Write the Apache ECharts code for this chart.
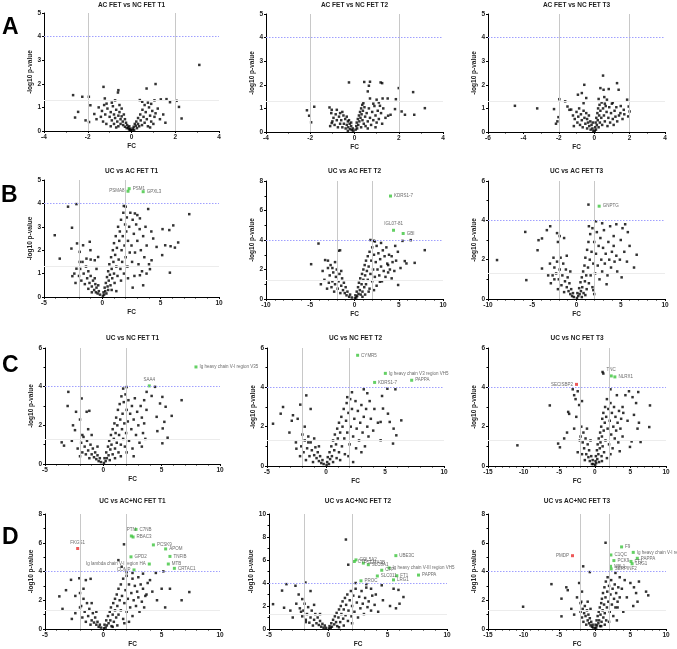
<!DOCTYPE html>
<html>
<head>
<meta charset="utf-8">
<script src="https://cdn.jsdelivr.net/npm/echarts@6/dist/echarts.min.js"></script>
<style>
  html, body { margin: 0; padding: 0; background: #fff; }
  #container { width: 677px; height: 649px; }
</style>
</head>
<body>
<div id="container"></div>
<script>
// panel titles
var titles = ['AC FET vs NC FET T1', 'AC FET vs NC FET T2', 'AC FET vs NC FET T3',
  'UC vs AC FET T1', 'UC vs AC FET T2', 'UC vs AC FET T3',
  'UC vs NC FET T1', 'UC vs NC FET T2', 'UC vs NC FET T3',
  'UC vs AC+NC FET T1', 'UC vs AC+NC FET T2', 'UC vs AC+NC FET T3'];
var rowLetters = ['A', 'B', 'C', 'D'];

// axis ranges [min, max, interval]
var xRanges = [[-4, 4, 2], [-4, 4, 2], [-6, 4, 2],
  [-5, 10, 5], [-10, 10, 5], [-10, 10, 5],
  [-5, 10, 5], [-5, 10, 5], [-15, 10, 5],
  [-5, 10, 5], [-5, 10, 5], [-15, 10, 5]];
var yRanges = [[0, 5, 1], [0, 5, 1], [0, 5, 1],
  [0, 5, 1], [0, 8, 2], [0, 6, 2],
  [0, 6, 2], [0, 6, 2], [0, 6, 2],
  [0, 8, 2], [0, 10, 2], [0, 8, 2]];

// FC, -log10 p-value
var a1Pts = [[3.1,2.8],[-2.67,1.52],[-2.25,1.45],[-1.95,1.45],[-1.28,1.87],[-0.6,1.73],[-0.62,1.63],[1.1,1.99],[2.17,1.02],[2.29,0.53],[-2.44,0.81],[-2.58,0.57],[-1.88,1.09],[-1.94,0.38],[-1.22,1.38],[-1.14,1.16],[1.6,1.35],[1.76,1.22],[1.34,1.34],[0.69,1.8],[0.38,1.31],[0.49,1.24],[2.06,1.28],[-2.1,0.45],[-1.7,0.72],[-1.6,0.5],[1.45,0.7],[1.3,0.5],[1.55,0.35],[1.2,0.95],[1.05,1.3],
  [-1.5,1.0],[-1.35,0.85],[-1.2,0.7],[-1.1,0.95],[-1.0,0.6],[-0.95,0.8],[-0.9,0.45],[-0.85,1.05],[-0.8,0.7],[-0.75,0.55],[-0.7,0.9],[-0.65,0.4],[-0.6,0.65],[-0.55,0.8],[-0.5,0.5],[-0.5,0.3],[-0.45,0.95],[-0.45,0.62],[-0.4,0.4],[-0.38,0.25],[-0.35,0.7],[-0.3,0.5],[-0.3,0.18],[-0.25,0.35],[-0.22,0.12],[-0.2,0.25],[-0.15,0.15],[-0.12,0.08],[-0.1,0.2],[-0.08,0.05],[-0.05,0.1],[-0.03,0.02],[-1.3,0.4],[-1.15,0.3],[-0.95,0.2],[-0.8,0.3],[-0.7,0.15],[-0.6,0.2],[-1.4,0.6],[-1.25,1.1],[-0.9,1.2],[-0.75,1.3],[-0.55,1.1],
  [0.03,0.03],[0.06,0.1],[0.1,0.18],[0.12,0.05],[0.15,0.3],[0.2,0.22],[0.22,0.4],[0.25,0.12],[0.3,0.55],[0.3,0.3],[0.35,0.2],[0.4,0.7],[0.42,0.45],[0.48,0.25],[0.5,0.9],[0.55,0.6],[0.6,0.35],[0.65,0.8],[0.7,0.5],[0.75,0.2],[0.8,1.0],[0.85,0.65],[0.9,0.4],[0.95,0.85],[1.0,0.3],[1.05,0.6],[1.1,0.75],[0.6,1.1],[0.75,1.2],[0.9,1.15],[0.85,0.15]];
var a2Pts = [[-0.25,2.1],[0.44,2.12],[0.7,2.13],[0.65,1.96],[0.6,1.72],[1.18,2.1],[1.25,2.07],[2.0,1.86],[2.65,1.69],[3.18,1.01],[2.7,0.73],[2.28,0.73],[2.13,0.87],[1.87,1.39],[1.5,1.42],[1.27,1.42],[0.7,1.42],[1.0,1.37],[1.15,1.11],[1.83,0.97],[1.63,0.73],[1.52,0.69],[-2.15,0.92],[-2.05,0.69],[-1.96,0.41],[-1.82,1.07],[-1.13,1.04],[-1.03,0.94],[-0.8,0.94],[-0.65,0.8],[-1.03,0.38],
  [0.05,0.1],[0.08,0.25],[0.1,0.4],[0.12,0.15],[0.15,0.55],[0.17,0.3],[0.2,0.7],[0.22,0.45],[0.25,0.85],[0.27,0.6],[0.3,1.0],[0.3,0.2],[0.32,0.75],[0.35,1.15],[0.36,0.5],[0.38,0.9],[0.4,1.22],[0.42,0.35],[0.45,1.05],[0.48,0.65],
  [0.5,0.25],[0.55,0.8],[0.6,0.45],[0.65,1.0],[0.7,0.6],[0.75,0.3],[0.8,0.85],[0.85,0.5],[0.9,1.1],[0.95,0.7],[1.0,0.4],[1.05,0.9],[1.1,0.55],[1.2,0.8],[1.25,0.35],[1.3,1.0],[1.4,0.6],[1.1,1.25],[0.85,1.2],[0.6,0.15],[0.95,0.2],
  [-0.05,0.05],[-0.08,0.15],[-0.12,0.08],[-0.15,0.25],[-0.2,0.12],[-0.22,0.35],[-0.28,0.2],[-0.3,0.45],[-0.35,0.3],[-0.4,0.15],[-0.42,0.55],[-0.48,0.35],[-0.5,0.7],[-0.55,0.2],[-0.6,0.5],[-0.65,0.35],[-0.7,0.65],[-0.75,0.2],[-0.8,0.5],[-0.85,0.75],[-0.9,0.3],[-0.95,0.6],[-1.0,0.45],[-1.05,0.8],[-1.1,0.25],[-0.55,0.85],[-0.35,0.65],[-0.25,0.5],[-0.15,0.4],[-0.3,0.05]];
var a3Pts = [[-4.48,1.11],[-3.22,1.0],[-2.27,0.97],[-2.08,0.45],[-2.16,0.35],[-1.97,1.39],[-2.02,0.63],[-1.64,1.3],[-1.51,1.08],[-1.4,0.94],[-0.56,2.0],[-0.7,1.65],[-0.92,1.58],[-0.45,1.44],[-0.6,1.22],[0.5,2.39],[1.29,2.07],[0.82,1.82],[0.35,1.86],[0.53,1.79],[1.38,1.79],[0.72,1.37],[0.57,1.48],[1.86,1.37],[1.95,1.08],[2.0,0.87],[1.92,0.66],[1.67,0.94],[1.48,0.8],
  [-1.2,0.7],[-1.1,0.55],[-1.0,0.85],[-0.95,0.4],[-0.9,0.65],[-0.85,1.0],[-0.8,0.3],[-0.75,0.75],[-0.7,0.5],[-0.65,0.2],[-0.6,0.9],[-0.55,0.6],[-0.5,0.35],[-0.45,0.8],[-0.4,0.15],[-0.4,0.55],[-0.35,0.4],[-0.3,0.7],[-0.28,0.25],[-0.22,0.45],[-0.2,0.1],[-0.15,0.3],[-0.1,0.15],[-0.08,0.4],[-0.05,0.05],[-1.3,0.95],[-1.15,0.25],
  [0.03,0.05],[0.06,0.2],[0.08,0.4],[0.1,0.1],[0.12,0.6],[0.15,0.3],[0.18,0.8],[0.2,0.5],[0.22,1.0],[0.25,0.2],[0.28,0.7],[0.3,1.15],[0.32,0.4],[0.35,0.9],[0.4,0.6],[0.42,1.25],[0.45,0.3],[0.5,1.0],[0.55,0.7],[0.6,0.45],[0.65,1.1],[0.7,0.85],[0.75,0.25],[0.8,0.6],[0.85,1.05],[0.9,0.4],[0.95,0.8],[1.0,1.2],[1.05,0.55],[1.1,0.3],[1.15,0.9],[1.2,0.65],[1.25,1.05],[1.3,0.45],[1.4,0.7],[1.5,1.1],[1.6,0.55],[1.7,0.75],[0.25,1.4],[0.6,1.2],[1.05,1.25]];
var b1Pts = [[1.84,3.89],[2.0,3.86],[-2.22,3.97],[-2.94,3.86],[-2.6,2.96],[-4.08,2.64],[-3.65,1.64],[-2.65,2.07],[-2.57,0.89],[-2.17,2.29],[-1.94,1.93],[-1.65,2.21],[-1.08,2.36],[-1.02,2.0],[-2.22,1.21],[-1.94,1.5],[-1.36,1.64],[-0.65,1.57],[-0.36,1.71],
  [3.93,3.76],[7.45,3.54],[6.08,3.06],[5.16,2.9],[5.74,2.86],[6.5,2.33],[6.22,2.11],[5.39,2.21],[5.85,2.17],[5.13,1.79],[5.79,1.04],[4.22,1.57],[4.08,1.19],[3.5,0.5],[3.22,0.93],[3.79,1.0],[4.36,2.5],[4.65,2.14],[3.7,3.0],[3.22,3.36],[2.79,3.57],
  [-0.2,0.1],[-0.3,0.25],[-0.4,0.15],[-0.5,0.4],[-0.55,0.2],[-0.6,0.55],[-0.7,0.3],[-0.8,0.7],[-0.9,0.45],[-1.0,0.9],[-1.1,0.6],[-1.2,1.1],[-1.3,0.8],[-1.4,1.3],[-1.5,0.55],[-1.6,1.0],[-1.7,1.5],[-1.8,0.7],[-1.9,1.2],[-2.0,0.9],[-2.3,0.6],[-2.4,1.0],[-1.2,0.35],[-0.9,0.2],[-0.65,0.8],[-0.35,0.5],[-1.0,1.6],[-0.5,1.2],
  [0.05,0.05],[0.1,0.2],[0.15,0.1],[0.2,0.4],[0.25,0.25],[0.3,0.6],[0.35,0.15],[0.4,0.85],[0.45,0.45],[0.5,1.1],[0.5,0.3],[0.55,0.7],[0.6,1.4],[0.65,0.95],[0.7,0.5],[0.75,1.7],[0.8,1.2],[0.85,0.8],[0.9,2.0],[0.95,1.5],[1.0,1.0],[1.0,2.3],[1.05,0.6],[1.1,1.8],[1.15,2.6],[1.2,1.3],[1.25,2.1],[1.3,0.9],[1.35,3.0],[1.4,1.6],[1.45,2.4],[1.5,2.8],[1.55,1.2],[1.6,3.3],[1.65,2.0],[1.7,1.5],[1.75,2.6],[1.8,3.6],[1.85,1.0],[1.9,2.2],[1.95,3.1],[2.0,1.7],[2.05,2.8],[2.1,3.4],[2.15,1.3],[2.2,2.4],[2.3,3.0],[2.35,1.9],[2.4,3.6],[2.5,2.2],[2.55,1.5],[2.6,3.3],[2.7,2.7],[2.75,0.9],[2.8,1.9],[2.9,3.1],[3.0,2.4],[3.1,1.4],[3.2,2.9],[3.3,2.0],[3.4,1.1],[3.5,2.6],[3.6,1.7],[3.8,2.2],[4.0,1.4],[4.2,2.8],[3.0,3.5],[2.6,0.4],[1.2,0.25],[0.8,0.3],[1.6,0.7],[2.2,0.8]];
var b2Pts = [[6.36,3.99],[5.42,3.94],[7.94,3.31],[-4.07,3.76],[-4.9,2.36],[5.68,2.57],[5.87,2.41],[6.8,2.45],[4.93,0.95],[2.87,1.17],[1.8,4.0],[2.2,3.95],[-1.82,3.27],[-1.63,3.3],[-3.32,2.64],[-3.0,2.6],[-2.5,2.1],[-3.6,1.9],[-3.8,1.0],[-3.4,1.3],[4.6,3.6],[4.9,3.2],[5.2,2.1],[4.2,2.9],[3.8,2.3],
  [-0.3,0.1],[-0.5,0.3],[-0.6,0.15],[-0.8,0.5],[-0.9,0.25],[-1.0,0.8],[-1.1,0.4],[-1.2,1.1],[-1.3,0.6],[-1.4,1.4],[-1.5,0.9],[-1.6,0.4],[-1.7,1.7],[-1.8,1.2],[-1.9,0.7],[-2.0,2.0],[-2.1,1.5],[-2.2,1.0],[-2.3,0.5],[-2.4,1.8],[-2.5,1.2],[-2.6,0.8],[-2.8,1.6],[-2.9,1.1],[-3.0,2.1],[-3.1,0.7],[-2.7,2.3],[-2.2,2.5],[-1.5,1.9],
  [0.05,0.05],[0.1,0.25],[0.2,0.1],[0.25,0.5],[0.3,0.2],[0.4,0.8],[0.45,0.35],[0.5,1.1],[0.6,0.6],[0.65,1.4],[0.7,0.3],[0.8,1.0],[0.85,1.7],[0.9,0.5],[1.0,2.0],[1.0,1.3],[1.1,0.8],[1.15,2.3],[1.2,1.6],[1.3,2.6],[1.3,1.0],[1.4,1.9],[1.5,2.9],[1.5,1.3],[1.6,2.2],[1.7,3.2],[1.7,0.7],[1.8,1.7],[1.9,2.6],[2.0,3.5],[2.0,1.2],[2.1,2.0],[2.2,3.0],[2.3,1.5],[2.4,2.5],[2.5,3.6],[2.5,0.9],[2.6,2.0],[2.7,3.1],[2.8,1.6],[2.9,2.7],[3.0,3.8],[3.0,2.2],[3.1,1.2],[3.2,3.3],[3.3,1.9],[3.4,2.9],[3.5,1.5],[3.6,3.5],[3.7,2.4],[3.8,1.8],[3.9,3.0],[4.0,2.0],[4.2,1.4],[4.3,2.5],[4.5,1.9],[4.7,2.6],[2.3,3.9],[1.2,0.3],[0.9,0.15],[1.6,0.5],[2.2,0.6]];
var b3Pts = [[1.35,4.8],[-8.98,1.98],[-5.79,3.41],[-4.29,2.99],[-3.9,3.08],[-3.35,3.5],[-2.97,3.7],[-4.4,2.48],[-3.9,1.55],[-5.67,0.96],[-2.2,3.35],[-1.9,3.2],[-2.1,2.9],[-1.4,3.1],[-3.2,1.2],[-3.0,1.8],[-2.6,2.1],[-2.5,1.0],
  [6.8,2.25],[6.5,1.6],[5.5,3.8],[5.8,3.4],[5.2,3.6],[5.0,3.0],[4.9,2.0],[5.4,2.4],[4.5,3.8],[4.2,2.7],[3.8,3.7],[6.0,2.7],[5.7,1.9],[4.6,1.4],[3.4,0.75],[5.1,1.1],[2.9,3.85],[2.2,3.95],
  [-0.3,0.1],[-0.4,0.3],[-0.5,0.15],[-0.6,0.5],[-0.7,0.25],[-0.8,0.8],[-0.9,0.4],[-1.0,1.1],[-1.1,0.6],[-1.2,1.5],[-1.3,0.9],[-1.4,0.35],[-1.5,1.8],[-1.6,1.2],[-1.7,0.7],[-1.8,2.1],[-1.9,1.5],[-2.0,1.0],[-2.1,0.5],[-2.2,1.9],[-2.3,1.3],[-2.5,1.6],[-2.7,1.2],[-2.9,0.8],[-1.1,2.2],[-0.7,1.4],
  [0.05,0.05],[0.1,0.3],[0.2,0.15],[0.3,0.55],[0.35,0.25],[0.45,0.85],[0.5,0.4],[0.6,1.1],[0.65,0.6],[0.75,1.4],[0.8,0.3],[0.9,1.7],[0.95,0.9],[1.0,2.1],[1.1,1.2],[1.15,0.5],[1.2,2.5],[1.3,1.6],[1.35,2.9],[1.4,0.8],[1.5,2.0],[1.55,3.3],[1.6,1.2],[1.7,2.4],[1.8,3.6],[1.8,0.6],[1.9,1.8],[2.0,2.9],[2.1,1.3],[2.2,2.3],[2.3,3.4],[2.4,1.7],[2.5,2.7],[2.6,1.0],[2.7,3.1],[2.8,2.0],[2.9,1.4],[3.0,2.6],[3.1,3.5],[3.2,1.8],[3.3,2.3],[3.5,1.2],[3.6,2.9],[3.7,2.0],[3.9,1.6],[4.0,2.4],[4.2,3.2],[4.3,1.9],[4.5,2.2],[1.0,0.2],[0.6,0.1],[2.0,0.25],[1.4,3.7],[1.9,0.45]];
var c1Pts = [[-3.0,3.73],[-3.06,3.0],[-1.86,3.39],[-2.34,2.7],[-1.43,2.7],[-1.2,2.75],[-3.57,1.12],[-3.37,0.95],[-2.43,1.75],[6.71,3.3],[4.43,3.99],[5.06,3.47],[4.86,3.13],[5.34,2.96],[5.86,2.49],[4.57,2.44],[5.23,2.18],[5.09,1.84],[4.63,1.7],[5.51,1.36],[5.06,1.07],[3.71,3.73],[4.14,3.52],[2.0,3.98],[1.7,3.9],[3.5,3.3],[-2.6,2.0],[-2.7,1.2],[-2.2,0.8],[-1.8,1.5],[-2.0,2.3],
  [-0.2,0.1],[-0.3,0.3],[-0.4,0.15],[-0.5,0.45],[-0.6,0.25],[-0.7,0.6],[-0.8,0.35],[-0.9,0.8],[-1.0,0.5],[-1.1,1.0],[-1.2,0.3],[-1.3,0.7],[-1.4,1.2],[-1.5,0.5],[-1.6,0.9],[-1.7,1.4],[-1.8,0.6],[-1.9,1.1],[-2.0,0.4],[-1.0,1.5],[-0.5,0.9],[-1.3,1.8],
  [0.05,0.05],[0.1,0.3],[0.2,0.15],[0.25,0.6],[0.3,0.3],[0.4,0.9],[0.45,0.45],[0.5,1.2],[0.55,0.2],[0.6,0.75],[0.65,1.5],[0.7,1.0],[0.8,1.8],[0.8,0.5],[0.9,1.3],[0.95,2.1],[1.0,0.8],[1.05,1.6],[1.1,2.4],[1.15,1.1],[1.2,2.0],[1.25,2.8],[1.3,0.6],[1.35,1.5],[1.4,3.1],[1.45,2.3],[1.5,1.0],[1.55,3.5],[1.6,1.8],[1.65,2.6],[1.7,1.3],[1.75,3.2],[1.8,2.1],[1.85,0.9],[1.9,3.6],[1.95,1.6],[2.0,2.8],[2.1,2.2],[2.15,3.3],[2.2,1.2],[2.3,2.6],[2.4,1.8],[2.45,3.0],[2.5,0.8],[2.6,2.3],[2.7,3.4],[2.8,1.5],[2.9,2.7],[3.0,2.0],[3.1,1.1],[3.2,3.0],[3.3,2.4],[3.4,1.6],[3.5,2.1],[3.6,1.3],[3.7,2.8],[1.0,0.3],[1.5,0.4],[2.0,0.6],[2.6,0.4],[3.3,0.9]];
var c2Pts = [[5.88,3.9],[5.2,3.93],[4.75,3.56],[4.83,2.92],[5.25,2.66],[5.4,2.24],[4.63,2.24],[4.4,2.2],[5.73,1.9],[5.96,1.56],[5.68,1.14],[6.38,2.32],[4.63,1.31],[-3.64,3.0],[-3.84,2.66],[-4.49,2.15],[-1.67,3.59],[-2.18,3.12],[-2.8,2.58],[-2.4,2.4],[-2.51,0.88],[-2.55,1.2],[-3.1,1.7],[-2.9,2.3],[3.2,3.9],[3.5,3.7],[2.2,3.75],[1.8,3.5],[-1.3,2.9],[-1.8,2.0],[-1.5,1.2],
  [-0.2,0.1],[-0.3,0.3],[-0.4,0.15],[-0.5,0.5],[-0.6,0.25],[-0.7,0.7],[-0.8,0.4],[-0.9,0.95],[-1.0,0.55],[-1.1,0.2],[-1.2,0.8],[-1.3,1.2],[-1.4,0.5],[-1.5,1.5],[-1.6,0.9],[-1.7,0.3],[-1.8,1.3],[-1.9,0.7],[-2.0,1.6],[-2.1,1.0],[-2.2,0.5],[-1.0,1.4],[-0.6,1.0],
  [0.05,0.05],[0.1,0.2],[0.15,0.45],[0.25,0.1],[0.3,0.7],[0.35,0.35],[0.45,1.0],[0.5,0.5],[0.6,1.3],[0.6,0.2],[0.7,0.8],[0.75,1.6],[0.85,1.1],[0.9,0.4],[0.95,1.9],[1.0,1.4],[1.1,2.2],[1.1,0.7],[1.2,1.7],[1.3,2.5],[1.35,1.0],[1.4,2.0],[1.5,2.9],[1.55,1.4],[1.6,0.6],[1.7,2.3],[1.75,3.2],[1.8,1.7],[1.9,2.7],[2.0,1.1],[2.05,3.4],[2.1,2.0],[2.2,2.9],[2.3,1.5],[2.4,2.4],[2.5,3.3],[2.55,0.9],[2.6,1.9],[2.7,2.8],[2.8,1.3],[2.9,2.2],[3.0,3.1],[3.1,1.7],[3.2,2.5],[3.3,1.0],[3.4,2.9],[3.5,2.0],[3.6,1.5],[3.7,3.3],[3.8,2.4],[4.0,1.8],[4.1,2.9],[1.2,0.3],[1.9,0.5],[2.3,0.2],[3.0,0.7]];
var c3Pts = [[1.09,4.78],[1.2,4.7],[-10.87,1.05],[-6.32,3.08],[-3.74,2.75],[-3.6,2.65],[-5.15,1.14],[-4.9,0.95],[-4.3,1.4],[-3.9,1.7],[-3.1,3.9],[-2.9,3.6],[-2.7,3.4],[-2.4,3.8],[-2.2,3.1],[-1.8,3.3],[-2.6,2.5],[-2.9,1.9],[-2.1,1.3],[-2.4,0.7],[7.75,3.08],[7.65,1.98],[5.17,1.25],[4.94,0.97],[6.43,1.22],[6.1,3.76],[5.8,3.2],[5.3,3.5],[4.8,3.8],[4.3,3.6],[3.9,3.0],[5.5,2.6],[6.2,2.2],[6.0,1.9],[4.6,2.3],[3.5,0.75],[2.2,3.9],
  [-0.2,0.1],[-0.3,0.3],[-0.4,0.1],[-0.5,0.5],[-0.7,0.25],[-0.8,0.8],[-0.9,0.45],[-1.0,1.1],[-1.2,0.6],[-1.3,1.4],[-1.4,0.3],[-1.5,0.9],[-1.6,1.7],[-1.7,1.2],[-1.8,0.6],[-1.9,2.0],[-2.0,1.5],[-1.1,1.9],[-0.6,1.3],
  [0.05,0.05],[0.1,0.25],[0.15,0.5],[0.2,0.15],[0.3,0.8],[0.35,0.35],[0.4,1.1],[0.5,0.6],[0.55,1.4],[0.6,0.2],[0.7,0.9],[0.75,1.7],[0.8,1.2],[0.9,2.0],[0.95,0.5],[1.0,1.5],[1.05,2.4],[1.1,1.0],[1.2,2.7],[1.25,1.8],[1.3,0.7],[1.4,2.2],[1.45,3.0],[1.5,1.3],[1.6,2.5],[1.7,3.4],[1.7,0.4],[1.8,1.9],[1.9,2.9],[2.0,1.1],[2.1,2.3],[2.2,3.2],[2.3,1.6],[2.4,2.7],[2.5,0.9],[2.6,2.0],[2.7,3.0],[2.8,1.4],[2.9,2.5],[3.0,1.8],[3.1,3.6],[3.2,2.2],[3.3,1.2],[3.4,2.8],[3.6,1.9],[3.7,2.4],[3.9,1.5],[4.0,2.7],[1.0,0.25],[2.2,0.6]];
var d1Pts = [[1.77,5.89],[1.29,4.79],[1.57,4.33],[5.14,4.01],[4.5,3.9],[-3.77,2.27],[-2.77,3.42],[-2.06,3.53],[-1.09,3.49],[6.71,2.0],[7.37,2.57],[5.0,2.8],[5.71,2.8],[4.2,2.6],[3.8,3.2],[3.4,3.85],[4.0,3.4],[4.6,2.0],[5.3,1.5],[3.6,2.3],[-3.2,2.7],[-2.4,2.3],[-2.0,1.5],[-3.5,1.4],[-2.7,0.7],[-2.4,1.1],[-1.7,2.8],[-1.5,3.4],[2.0,3.95],[2.5,3.9],
  [-0.2,0.1],[-0.3,0.3],[-0.4,0.15],[-0.5,0.5],[-0.6,0.3],[-0.7,0.8],[-0.8,0.45],[-0.9,1.1],[-1.0,0.6],[-1.1,0.3],[-1.2,1.4],[-1.3,0.9],[-1.4,1.8],[-1.5,0.5],[-1.6,1.2],[-1.7,2.1],[-1.8,0.8],[-1.9,1.6],[-2.0,2.5],[-1.0,1.8],[-0.6,1.2],
  [0.05,0.05],[0.1,0.3],[0.2,0.1],[0.25,0.6],[0.3,0.25],[0.4,0.9],[0.45,0.4],[0.55,1.2],[0.6,0.6],[0.65,1.5],[0.7,0.2],[0.8,1.0],[0.85,1.8],[0.9,0.5],[1.0,2.1],[1.0,1.3],[1.1,0.8],[1.15,2.4],[1.2,1.6],[1.3,2.8],[1.3,1.0],[1.4,2.0],[1.5,3.1],[1.5,1.3],[1.6,2.3],[1.7,3.5],[1.7,0.7],[1.8,1.8],[1.9,2.7],[2.0,3.7],[2.0,1.2],[2.1,2.1],[2.2,3.1],[2.3,1.5],[2.4,2.5],[2.5,3.5],[2.5,0.9],[2.6,2.0],[2.7,3.0],[2.8,1.6],[2.9,2.6],[3.0,3.6],[3.0,2.2],[3.1,1.2],[3.2,3.1],[3.3,1.9],[3.4,2.8],[3.5,1.5],[3.7,2.4],[1.2,0.25],[1.8,0.4],[2.2,0.5],[0.8,0.15]];
var d2Pts = [[1.48,7.78],[1.68,5.59],[-4.66,2.16],[-3.9,3.34],[-3.53,3.9],[-2.77,3.76],[-1.93,4.04],[-3.73,1.85],[-3.2,1.6],[6.33,2.78],[5.91,3.4],[5.5,3.5],[6.0,2.2],[5.2,2.0],[4.5,3.8],[4.0,3.0],[3.6,3.5],[3.2,3.9],[4.6,2.5],[5.7,1.8],[4.2,1.5],[2.3,4.0],[-2.5,3.0],[-2.2,2.6],[-2.7,2.2],[-3.0,1.0],[-1.5,3.3],[-1.9,0.6],[-2.3,1.5],
  [-0.2,0.1],[-0.3,0.3],[-0.4,0.1],[-0.5,0.45],[-0.6,0.2],[-0.7,0.7],[-0.8,0.35],[-0.9,1.0],[-1.0,0.5],[-1.1,1.3],[-1.2,0.8],[-1.3,0.3],[-1.4,1.6],[-1.5,1.0],[-1.6,0.55],[-1.7,1.9],[-1.8,1.3],[-1.9,0.8],[-2.0,2.2],[-2.1,1.6],[-2.2,1.1],[-1.2,2.1],[-0.7,1.3],[-2.4,1.8],
  [0.05,0.05],[0.1,0.25],[0.2,0.1],[0.25,0.5],[0.3,0.2],[0.4,0.8],[0.5,0.4],[0.55,1.1],[0.65,0.6],[0.7,1.4],[0.75,0.25],[0.85,1.0],[0.9,1.7],[1.0,0.6],[1.05,2.0],[1.1,1.3],[1.2,2.4],[1.25,0.9],[1.3,1.7],[1.4,2.7],[1.45,1.2],[1.5,2.1],[1.6,3.0],[1.65,0.7],[1.7,1.6],[1.8,2.5],[1.9,3.3],[1.95,1.1],[2.0,2.0],[2.1,2.9],[2.2,1.5],[2.3,3.5],[2.4,2.3],[2.5,1.0],[2.6,2.8],[2.7,1.8],[2.8,3.3],[2.9,2.2],[3.0,1.3],[3.1,2.7],[3.2,3.6],[3.3,1.9],[3.4,2.4],[3.6,1.6],[3.7,2.9],[3.9,2.1],[1.3,0.3],[2.0,0.5],[0.9,0.15]];
var d3Pts = [[1.51,6.0],[-1.63,4.36],[-0.7,3.96],[-10.07,1.55],[-6.09,3.12],[-4.68,0.88],[-4.68,2.11],[-4.0,2.9],[-3.8,2.7],[-3.3,1.4],[-2.9,1.0],[-2.5,2.2],[-2.2,3.2],[-2.0,1.8],[-1.8,2.6],[7.51,2.34],[7.2,2.6],[6.0,1.9],[5.8,2.5],[5.5,2.9],[5.0,3.2],[4.5,2.2],[4.2,3.4],[3.8,2.8],[3.5,3.6],[3.2,1.5],[6.2,3.3],[5.4,1.6],[4.0,1.2],[2.9,3.9],[3.1,0.6],
  [-0.2,0.1],[-0.3,0.3],[-0.4,0.15],[-0.5,0.5],[-0.6,0.25],[-0.7,0.75],[-0.8,0.4],[-0.9,1.0],[-1.0,0.6],[-1.1,1.3],[-1.2,0.3],[-1.3,0.9],[-1.4,1.6],[-1.5,1.1],[-1.6,0.5],[-1.7,1.4],[-1.8,0.8],[-1.9,1.9],[-2.0,1.2],[-1.0,1.9],[-0.6,1.4],
  [0.05,0.05],[0.1,0.3],[0.2,0.1],[0.25,0.6],[0.3,0.25],[0.4,0.9],[0.5,0.4],[0.55,1.2],[0.6,0.6],[0.7,1.5],[0.75,0.2],[0.8,1.0],[0.9,1.8],[0.95,0.5],[1.0,2.1],[1.1,1.3],[1.15,2.5],[1.2,0.8],[1.3,1.7],[1.35,2.9],[1.4,1.1],[1.5,2.2],[1.55,3.3],[1.6,0.6],[1.7,1.5],[1.75,2.6],[1.8,3.6],[1.9,1.9],[2.0,3.0],[2.1,1.2],[2.2,2.4],[2.3,3.4],[2.4,1.7],[2.5,2.8],[2.6,0.9],[2.7,2.1],[2.8,3.1],[2.9,1.5],[3.0,2.5],[3.2,1.9],[3.3,2.9],[3.5,2.2],[1.4,0.3],[2.0,0.5],[0.9,0.2]];

// significant up (green) and down (red) proteins: [FC, -log10 p, name]
var b1Up = [[2.3,4.63,'PSM1'],[2.2,4.52,'PSMA8'],[3.5,4.5,'GPXL3']];
var b2Up = [[4.07,6.98,'KDRS1-7'],[4.41,4.66,'IGL07-81'],[5.5,4.44,'GBI']];
var b3Up = [[2.56,4.72,'GNPTG']];
var c1Up = [[3.94,4.04,'SAA4'],[7.94,5.02,'Ig heavy chain V-I region V35']];
var c2Up = [[2.68,5.63,'CYMR5'],[5.03,4.71,'Ig heavy chain V3 region VH5'],[4.12,4.25,'KDRS1-7'],[7.26,4.36,'PAPPA']];
var c3Up = [[2.31,4.58,'TNC'],[2.82,4.53,'NLRX1']];
var c3Down = [[-2.57,4.15,'SECISBP2']];
var d1Up = [[2.8,6.93,'C7NB'],[2.4,6.47,'PTN'],[2.55,6.4,'RBAC3'],[4.29,5.85,'PCSK9'],[5.34,5.57,'APOM'],[5.71,5.05,'TNFIB'],[5.57,4.52,'MTB'],[6.09,4.22,'CRTAC1'],[2.37,5.02,'GPD2'],[3.94,4.52,'Ig lambda chain V-I region HA'],[2.63,4.11,'COMP']];
var d1Down = [[-2.2,5.6,'FKGS1']];
var d2Up = [[5.69,6.38,'UBE3C'],[2.33,6.01,'COL5A2'],[2.19,5.87,'CTB'],[2.95,5.73,'SEMA3B'],[3.37,5.59,'SLC8A1'],[4.5,5.11,'CFP'],[5.12,5.31,'Ig heavy chain V-III region VH5'],[4.13,4.61,'SLC011'],[5.77,4.63,'FT1'],[7.6,4.69,'PAPPA'],[5.49,4.27,'LRG1'],[2.75,4.19,'PROC']];
var d3Up = [[3.76,5.71,'F9'],[5.4,5.33,'Ig heavy chain V-I region HG3'],[2.26,5.15,'C1QC'],[5.97,4.92,'PAPPA'],[2.68,4.76,'PCK9'],[5.08,4.7,'FT1'],[5.24,4.54,'LRG1'],[2.21,4.36,'NBL1'],[2.3,4.18,'SERPINF2']];
var d3Down = [[-3.13,5.1,'PMDP']];

var allPts = [a1Pts, a2Pts, a3Pts, b1Pts, b2Pts, b3Pts, c1Pts, c2Pts, c3Pts, d1Pts, d2Pts, d3Pts];
var allUp = [[], [], [], b1Up, b2Up, b3Up, c1Up, c2Up, c3Up, d1Up, d2Up, d3Up];
var allDown = [[], [], [], [], [], [], [], [], c3Down, d1Down, [], d3Down];

// plot rectangles in pixels [left, top, width, height]
var rects = [[44,13,175,118],[266,14,177,118],[488,14,177,118],
  [44,180,175,117],[266,181,177,118],[488,181,177,118],
  [45,348,175,116],[267,348,177,118],[488,348,178,118],
  [45,514,175,117],[269,514,178,119],[488,514,178,119]];
var titleY = [4, 170, 337, 500];
var letterPos = [[10,28],[9,196],[10,366],[10,538]];
var labelSide = {'PTN': 'top', 'FKGS1': 'top', 'SAA4': 'top', 'SECISBP2': 'left', 'PMDP': 'left',
  'Ig lambda chain V-I region HA': 'left', 'COMP': 'left', 'IGL07-81': 'top', 'PSMA8': 'left', 'TNC': 'top'};

var FONT = 'Liberation Sans';
var myChart = echarts.init(document.getElementById('container'));

var grids = [], xAxes = [], yAxes = [], series = [], titleList = [], graphics = [];
var i;
for (i = 0; i < 12; i++) {
  var r = rects[i];
  grids.push({left: r[0], top: r[1], width: r[2], height: r[3], containLabel: false});
  xAxes.push({
    gridIndex: i, type: 'value', min: xRanges[i][0], max: xRanges[i][1], interval: xRanges[i][2],
    name: 'FC', nameLocation: 'middle', nameGap: 12,
    nameTextStyle: {fontFamily: FONT, fontWeight: 'bold', fontSize: 6.5, color: '#222'},
    axisLine: {onZero: false, lineStyle: {color: '#000', width: 1}},
    axisTick: {length: 2, lineStyle: {color: '#000'}},
    minorTick: {show: xRanges[i][2] > 1, splitNumber: xRanges[i][2], length: 1.5, lineStyle: {color: '#000'}},
    axisLabel: {fontFamily: FONT, fontWeight: 'bold', fontSize: 6.5, color: '#222', margin: 3},
    splitLine: {show: false}
  });
  yAxes.push({
    gridIndex: i, type: 'value', min: yRanges[i][0], max: yRanges[i][1], interval: yRanges[i][2],
    name: '-log10 p-value', nameLocation: 'middle', nameGap: 10, nameRotate: 90,
    nameTextStyle: {fontFamily: FONT, fontWeight: 'bold', fontSize: 6.5, color: '#222'},
    axisLine: {onZero: false, lineStyle: {color: '#000', width: 1}},
    axisTick: {length: 2, lineStyle: {color: '#000'}},
    minorTick: {show: yRanges[i][2] > 1, splitNumber: yRanges[i][2], length: 1.5, lineStyle: {color: '#000'}},
    axisLabel: {fontFamily: FONT, fontWeight: 'bold', fontSize: 6.5, color: '#222', margin: 3},
    splitLine: {show: false}
  });
  titleList.push({
    text: titles[i], left: r[0] + r[2] / 2, top: titleY[Math.floor(i / 3)] - 2, textAlign: 'center',
    padding: 0,
    textStyle: {fontFamily: FONT, fontWeight: 'bold', fontSize: 6.5, color: '#222'}
  });
  series.push({
    type: 'scatter', xAxisIndex: i, yAxisIndex: i, data: allPts[i],
    symbol: 'rect', symbolSize: 2.5, itemStyle: {color: '#000'}, silent: true,
    markLine: {
      silent: true, symbol: ['none', 'none'], label: {show: false}, animation: false,
      data: [
        {xAxis: -2, lineStyle: {color: '#c8c8c8', width: 1, type: 'solid'}},
        {xAxis: 2, lineStyle: {color: '#c8c8c8', width: 1, type: 'solid'}},
        {yAxis: 1.3, lineStyle: {color: '#ececec', width: 1, type: 'solid'}},
        {yAxis: 4, lineStyle: {color: '#a0a0ff', width: 1, type: [1.5, 1.5]}}
      ]
    }
  });
  [[allUp[i], '#3dc43d'], [allDown[i], '#e83030']].forEach(function(s) {
    if (!s[0].length) return;
    series.push({
      type: 'scatter', xAxisIndex: i, yAxisIndex: i, symbol: 'rect', symbolSize: 3,
      itemStyle: {color: s[1]}, silent: true,
      data: s[0].map(function(h) {
        return {value: [h[0], h[1]], name: h[2], label: {position: labelSide[h[2]] || 'right'}};
      }),
      label: {show: true, formatter: '{b}', fontFamily: FONT, fontSize: 4.5, color: '#444', distance: 2}
    });
  });
}
rowLetters.forEach(function(l, k) {
  graphics.push({
    type: 'text', left: letterPos[k][0] - 8, top: letterPos[k][1] - 12,
    style: {text: l, font: 'bold 23px "Liberation Sans"', fill: '#000'}
  });
});

var option = {
  animation: false,
  backgroundColor: '#fff',
  title: titleList,
  grid: grids,
  xAxis: xAxes,
  yAxis: yAxes,
  series: series,
  graphic: graphics
};
myChart.setOption(option);
</script>
</body>
</html>
